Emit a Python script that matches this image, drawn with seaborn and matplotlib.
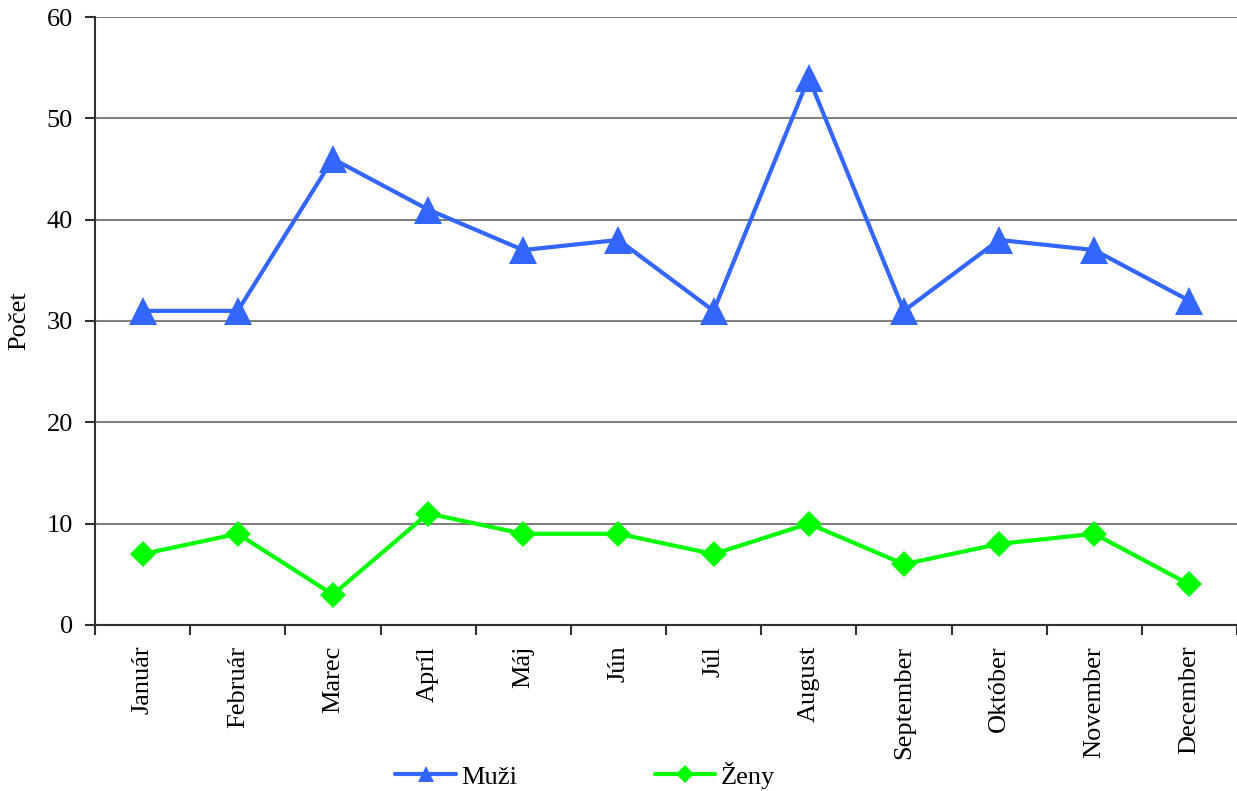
import matplotlib
matplotlib.use("Agg")
import matplotlib.pyplot as plt
from matplotlib.lines import Line2D
import pandas as pd
import seaborn as sns
from matplotlib.ticker import FixedLocator, NullFormatter

# data
months = ["Január", "Február", "Marec", "Apríl", "Máj", "Jún",
          "Júl", "August", "September", "Október", "November", "December"]
muzi = [31, 31, 46, 41, 37, 38, 31, 54, 31, 38, 37, 32]
zeny = [7, 9, 3, 11, 9, 9, 7, 10, 6, 8, 9, 4]

blue = "#3366FF"
green = "#00FF00"

df = pd.DataFrame({"mesiac": months, "Muži": muzi, "Ženy": zeny})

sns.set_style("white")
plt.rcParams["font.family"] = ["Liberation Serif", "DejaVu Serif"]
plt.rcParams["text.color"] = "black"
plt.rcParams["xtick.color"] = "#303030"
plt.rcParams["ytick.color"] = "#303030"
plt.rcParams["xtick.labelcolor"] = "black"
plt.rcParams["ytick.labelcolor"] = "black"
plt.rcParams["axes.labelcolor"] = "black"

fig = plt.figure(figsize=(12.37, 7.91), dpi=100)
ax = fig.add_axes([0.0768, 0.2099, 0.9232, 0.7686])

sns.lineplot(data=df, x="mesiac", y="Muži", ax=ax, color=blue,
             linewidth=3, marker="^", markersize=20, markeredgewidth=0,
             sort=False, legend=False)
sns.lineplot(data=df, x="mesiac", y="Ženy", ax=ax, color=green,
             linewidth=3, marker="D", markersize=13, markeredgewidth=0,
             sort=False, legend=False)

ax.set_ylim(0, 60)
ax.set_yticks(range(0, 61, 10))
ax.set_xlim(-0.5, len(months) - 0.5)
ax.yaxis.grid(True, color="#808080", linewidth=1.5)
ax.set_axisbelow(True)

# tick marks between categories like in the original
ax.xaxis.set_minor_locator(FixedLocator([i - 0.5 for i in range(len(months) + 1)]))
ax.xaxis.set_minor_formatter(NullFormatter())
ax.tick_params(axis="x", which="major", bottom=False, length=0, pad=15)
ax.tick_params(axis="x", which="minor", bottom=True, length=7, width=1.5, direction="out")
ax.tick_params(axis="y", left=True, length=7, width=1.5, direction="out", pad=9)
plt.xticks(rotation=90, fontsize=19)
plt.yticks(fontsize=19)

for side in ["top", "right"]:
    ax.spines[side].set_visible(False)
for side in ["left", "bottom"]:
    ax.spines[side].set_color("#303030")
    ax.spines[side].set_linewidth(1.5)

ax.set_xlabel("")
ax.set_ylabel("Počet", fontsize=19, labelpad=12)

handles = [Line2D([], [], color=blue, linewidth=3, marker="^", markersize=11, markeredgewidth=0),
           Line2D([], [], color=green, linewidth=3, marker="D", markersize=9, markeredgewidth=0)]
ax.legend(handles, ["Muži", "Ženy"], loc="center", bbox_to_anchor=(0.473, 0.02),
          bbox_transform=fig.transFigure, ncol=2, frameon=False, fontsize=19,
          handlelength=2.3, columnspacing=5.2, handletextpad=0.2)

fig.savefig("out.png", dpi=100)
